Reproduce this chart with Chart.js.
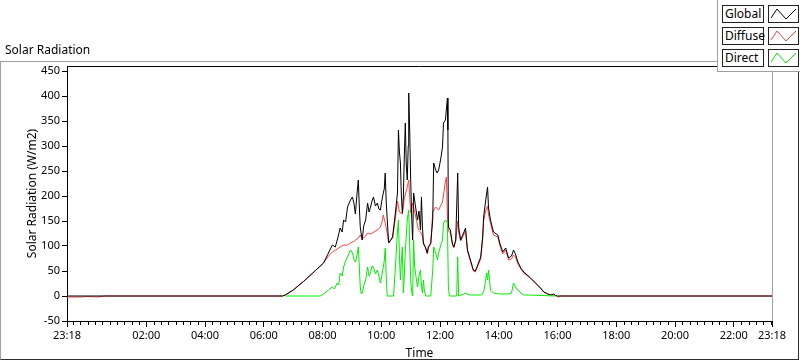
<!DOCTYPE html>
<html>
<head>
<meta charset="utf-8">
<script src="https://cdn.jsdelivr.net/npm/chart.js@4.4.0/dist/chart.umd.min.js"></script>
<style>
  body { margin: 0; background: #fff; font-family: "Noto Sans", sans-serif; }
  #wrap { position: relative; width: 800px; height: 361px; overflow: hidden; }
  #frame { position: absolute; left: 0; top: 61px; width: 797px; height: 297px;
    border-left: 1px solid #a0a0a0; border-top: 1px solid #a0a0a0;
    border-right: 1px solid #303030; border-bottom: 1px solid #303030; }
  canvas { position: absolute; left: 0; top: 0; }
  #title { position: absolute; left: 5px; top: 41px; font-size: 12px; color: #000; }
  #legend { position: absolute; left: 717px; top: 0; width: 83px; height: 71px; background: #fff;
    border-left: 1px solid #a0a0a0; border-bottom: 1px solid #a0a0a0; }
  .lbl { position: absolute; left: 4px; width: 38px; height: 16px; border: 1px solid #222;
    font-size: 12px; line-height: 16px; padding-left: 2px; color: #000; }
  .ico { position: absolute; left: 50px; width: 29px; height: 16px; border: 1px solid #222; }
  .ico svg { display: block; }
</style>
</head>
<body>
<div id="wrap">
  <div id="frame"></div>
  <canvas id="myChart" width="800" height="361"></canvas>
  <div id="title">Solar Radiation</div>
  <div id="legend"></div>
</div>
<script>
// x axis tick labels (23:18 on the left is the previous day)
const xTickTimes = ["23:18", "02:00", "04:00", "06:00", "08:00", "10:00", "12:00",
  "14:00", "16:00", "18:00", "20:00", "22:00", "23:18"];
const yTicks = [-50, 0, 50, 100, 150, 200, 250, 300, 350, 400, 450];
const minorStep = 15; // minutes between minor ticks

const seriesNames = ["Global", "Diffuse", "Direct"];
const seriesColors = ["#000000", "#ff4040", "#00ee00"];

const globalTimes = ["23:18", "06:38", "06:44", "07:00", "07:21", "07:40", "08:02", "08:12", "08:20", "08:26",
  "08:30", "08:36", "08:40", "08:43", "08:47", "08:51", "08:57", "09:01", "09:04", "09:07",
  "09:10", "09:13", "09:15", "09:17", "09:19", "09:21", "09:24", "09:28", "09:32", "09:35",
  "09:38", "09:41", "09:44", "09:48", "09:52", "09:55", "09:58", "10:01", "10:04", "10:06",
  "10:08", "10:10", "10:13", "10:15", "10:19", "10:23", "10:28", "10:33", "10:35", "10:37",
  "10:39", "10:41", "10:43", "10:45", "10:47", "10:49", "10:51", "10:53", "10:55", "10:56",
  "10:58", "11:00", "11:02", "11:04", "11:06", "11:10", "11:14", "11:17", "11:20", "11:22",
  "11:24", "11:26", "11:30", "11:34", "11:36", "11:41", "11:45", "11:47", "11:51", "11:54",
  "11:57", "12:01", "12:05", "12:07", "12:11", "12:15", "12:16", "12:17", "12:21", "12:25",
  "12:28", "12:32", "12:36", "12:38", "12:42", "12:48", "12:52", "12:56", "13:02", "13:08",
  "13:12", "13:17", "13:23", "13:27", "13:29", "13:33", "13:37", "13:39", "13:43", "13:49",
  "13:58", "14:02", "14:08", "14:14", "14:20", "14:26", "14:30", "14:34", "14:39", "14:45",
  "14:51", "15:05", "15:19", "15:25", "15:32", "15:40", "15:46", "15:52", "15:56", "16:00",
  "23:18"];
const globalValues = [0, 0, 2, 12, 29, 46, 66, 86, 102, 98,
  112, 136, 128, 152, 148, 178, 192, 198, 186, 164,
  200, 232, 180, 138, 124, 112, 140, 152, 186, 168,
  178, 190, 198, 180, 186, 174, 172, 190, 206, 214,
  246, 188, 138, 106, 112, 118, 160, 206, 332, 288,
  266, 200, 166, 198, 280, 346, 262, 232, 300, 406,
  330, 232, 160, 112, 206, 178, 152, 170, 132, 198,
  138, 106, 98, 86, 98, 106, 152, 266, 252, 246,
  252, 272, 298, 346, 352, 396, 332, 138, 132, 106,
  98, 112, 246, 138, 112, 126, 136, 92, 72, 52,
  50, 62, 78, 118, 158, 190, 218, 176, 152, 128,
  122, 106, 88, 96, 76, 80, 92, 84, 68, 56,
  48, 36, 22, 16, 8, 4, 2, 4, 1, 0,
  0];

const diffuseTimes = ["23:18", "23:45", "00:00", "00:20", "00:35", "06:38", "06:44", "07:00", "07:21", "07:40",
  "08:02", "08:12", "08:20", "08:30", "08:36", "08:43", "08:51", "08:57", "09:05", "09:13",
  "09:17", "09:21", "09:28", "09:32", "09:38", "09:45", "09:52", "09:58", "10:02", "10:04",
  "10:08", "10:13", "10:15", "10:23", "10:28", "10:33", "10:37", "10:43", "10:47", "10:53",
  "10:56", "11:00", "11:04", "11:10", "11:16", "11:20", "11:24", "11:26", "11:30", "11:34",
  "11:36", "11:41", "11:45", "11:51", "11:57", "12:01", "12:05", "12:11", "12:13", "12:15",
  "12:17", "12:21", "12:25", "12:28", "12:32", "12:36", "12:38", "12:42", "12:48", "12:52",
  "12:56", "13:02", "13:08", "13:12", "13:17", "13:23", "13:27", "13:29", "13:33", "13:37",
  "13:39", "13:43", "13:49", "13:58", "14:02", "14:08", "14:14", "14:20", "14:26", "14:30",
  "14:34", "14:39", "14:45", "14:51", "15:05", "15:19", "15:25", "15:32", "15:40", "15:46",
  "15:52", "15:58", "16:02", "16:06", "23:18"];
const diffuseValues = [-2, -2, -1, -2, 0, 0, 2, 12, 29, 46,
  66, 80, 88, 94, 98, 102, 102, 106, 110, 116,
  122, 114, 120, 126, 124, 128, 132, 138, 150, 162,
  146, 120, 106, 116, 150, 190, 168, 164, 196, 218,
  232, 166, 186, 160, 132, 128, 120, 104, 96, 84,
  96, 104, 168, 178, 172, 180, 188, 230, 238, 158,
  130, 126, 104, 96, 110, 150, 128, 110, 122, 130,
  90, 70, 50, 48, 60, 74, 114, 150, 170, 180,
  162, 146, 122, 118, 102, 84, 92, 72, 74, 82,
  78, 64, 54, 46, 35, 22, 16, 8, 4, 2,
  2, 0, -2, 0, 0];

const directTimes = ["06:44", "07:55", "08:02", "08:12", "08:20", "08:24", "08:30", "08:33", "08:36", "08:40",
  "08:43", "08:47", "08:51", "08:57", "09:01", "09:04", "09:07", "09:10", "09:13", "09:15",
  "09:17", "09:19", "09:21", "09:24", "09:28", "09:32", "09:35", "09:38", "09:41", "09:44",
  "09:48", "09:52", "09:55", "09:58", "10:01", "10:04", "10:06", "10:08", "10:10", "10:12",
  "10:25", "10:29", "10:33", "10:35", "10:37", "10:39", "10:41", "10:43", "10:45", "10:47",
  "10:49", "10:53", "10:56", "10:58", "11:00", "11:02", "11:04", "11:06", "11:08", "11:12",
  "11:14", "11:17", "11:20", "11:22", "11:24", "11:26", "11:28", "11:31", "11:41", "11:45",
  "11:47", "11:51", "11:55", "11:57", "12:01", "12:05", "12:07", "12:11", "12:15", "12:17",
  "12:19", "12:34", "12:36", "12:38", "12:48", "12:52", "13:00", "13:25", "13:30", "13:35",
  "13:37", "13:39", "13:43", "13:49", "14:00", "14:20", "14:26", "14:30", "14:34", "14:39",
  "14:45", "14:51", "15:00", "15:56"];
const directValues = [0, 0, 4, 12, 18, 14, 26, 22, 46, 40,
  58, 70, 78, 92, 86, 74, 68, 80, 98, 60,
  18, 4, 6, 20, 32, 58, 40, 46, 60, 58,
  44, 52, 40, 26, 40, 58, 70, 96, 40, 0,
  0, 60, 130, 152, 80, 32, 70, 98, 6, 40,
  90, 152, 172, 100, 32, 10, 0, 112, 60, 30,
  18, 40, 52, 20, 6, 32, 10, 0, 0, 52,
  98, 86, 72, 86, 100, 112, 146, 152, 146, 18,
  0, 0, 78, 0, 4, 6, 2, 2, 12, 46,
  32, 52, 12, 6, 4, 4, 6, 26, 18, 12,
  6, 2, 2, 0];

// "HH:MM" -> minutes of day; evening times before the first morning time belong to the day before
function toMinutes(times) {
  let seenMorning = false;
  return times.map((s) => {
    const [h, m] = s.split(":").map(Number);
    let v = h * 60 + m;
    if (v < 720) seenMorning = true;
    else if (!seenMorning) v -= 1440;
    return v;
  });
}

function fmt(v) {
  const d = ((Math.round(v) % 1440) + 1440) % 1440;
  const h = Math.floor(d / 60), m = d % 60;
  return String(h).padStart(2, "0") + ":" + String(m).padStart(2, "0");
}

function points(times, values) {
  const mins = toMinutes(times);
  return mins.map((t, i) => ({ x: t, y: values[i] }));
}

const xTickValues = toMinutes(xTickTimes);
const xMin = xTickValues[0];
const xMax = xTickValues[xTickValues.length - 1];

// legend panel
const legend = document.getElementById("legend");
seriesNames.forEach((name, i) => {
  const top = 5 + i * 22;
  legend.innerHTML +=
    '<div class="lbl" style="top:' + top + 'px">' + name + '</div>' +
    '<div class="ico" style="top:' + top + 'px"><svg width="29" height="16">' +
    '<polyline points="2,12 8,3 17,13 27,3" fill="none" stroke="' + seriesColors[i] + '" stroke-width="1"/></svg></div>';
});

// top/right border of plot area and the minor x ticks
const plotExtras = {
  id: "plotExtras",
  afterDraw(chart) {
    const { ctx, chartArea: a, scales } = chart;
    const x = scales.x;
    ctx.save();
    ctx.lineWidth = 1;
    ctx.strokeStyle = "#000";
    ctx.beginPath();
    ctx.moveTo(a.left, Math.round(a.top) + 0.5);
    ctx.lineTo(a.right, Math.round(a.top) + 0.5);
    ctx.stroke();
    ctx.strokeStyle = "#a0a0a0";
    ctx.beginPath();
    ctx.moveTo(Math.round(a.right) + 0.5, a.top);
    ctx.lineTo(Math.round(a.right) + 0.5, a.bottom);
    ctx.stroke();
    ctx.strokeStyle = "#000";
    ctx.beginPath();
    for (let t = Math.ceil(xMin / minorStep) * minorStep; t < xMax; t += minorStep) {
      if (xTickValues.includes(t)) continue;
      const px = Math.round(x.getPixelForValue(t)) + 0.5;
      ctx.moveTo(px, a.bottom);
      ctx.lineTo(px, a.bottom + 4);
    }
    ctx.stroke();
    ctx.restore();
  },
};

const tickFont = { family: "Noto Sans", size: 11 };
const titleFont = { family: "Noto Sans", size: 12 };

new Chart(document.getElementById("myChart"), {
  type: "line",
  data: {
    datasets: [
      { label: seriesNames[0], data: points(globalTimes, globalValues), borderColor: seriesColors[0], order: 2 },
      { label: seriesNames[1], data: points(diffuseTimes, diffuseValues), borderColor: seriesColors[1], order: 3 },
      { label: seriesNames[2], data: points(directTimes, directValues), borderColor: seriesColors[2], order: 1 },
    ],
  },
  options: {
    responsive: false,
    animation: false,
    datasets: {
      line: { borderWidth: 1, pointRadius: 0, tension: 0, fill: false },
    },
    layout: { padding: { left: 0, right: 28, top: 66, bottom: 0 } },
    plugins: {
      legend: { display: false },
      tooltip: { enabled: false },
    },
    scales: {
      x: {
        type: "linear",
        min: xMin,
        max: xMax,
        afterBuildTicks: (scale) => {
          scale.ticks = xTickValues.map((v) => ({ value: v }));
        },
        afterFit: (scale) => {
          scale.height = 40;
        },
        ticks: {
          autoSkip: false,
          maxRotation: 0,
          padding: 2,
          color: "#000",
          font: tickFont,
          callback: (v) => fmt(v),
        },
        grid: { drawOnChartArea: false, drawTicks: true, tickLength: 6, color: "#000" },
        border: { display: true, color: "#000" },
        title: { display: true, text: "Time", color: "#000", font: titleFont, padding: { top: 0, bottom: 0 } },
      },
      y: {
        min: yTicks[0],
        max: 460,
        afterBuildTicks: (scale) => {
          scale.ticks = yTicks.map((v) => ({ value: v }));
        },
        afterFit: (scale) => {
          scale.width = 67;
        },
        ticks: { padding: 2, color: "#000", font: tickFont },
        grid: { drawOnChartArea: false, drawTicks: true, tickLength: 5, color: "#000" },
        border: { display: true, color: "#000" },
        title: {
          display: true,
          text: "Solar Radiation (W/m2)",
          color: "#000",
          font: titleFont,
          padding: { top: 25, bottom: 0 },
        },
      },
    },
  },
  plugins: [plotExtras],
});
</script>
</body>
</html>
